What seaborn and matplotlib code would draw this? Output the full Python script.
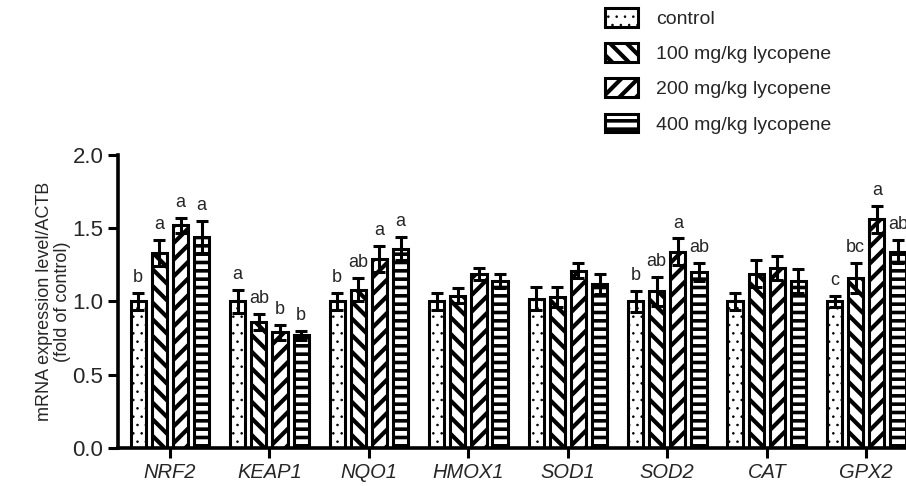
import numpy as np
import pandas as pd
import seaborn as sns
import matplotlib.pyplot as plt
import matplotlib.patches as mpatches

genes = ["NRF2", "KEAP1", "NQO1", "HMOX1", "SOD1", "SOD2", "CAT", "GPX2"]
groups = ["control", "100 mg/kg lycopene", "200 mg/kg lycopene", "400 mg/kg lycopene"]

# mean fold change per gene, one list per group
control = [1.00, 1.00, 1.00, 1.00, 1.02, 1.00, 1.00, 1.00]
lyc100 = [1.33, 0.86, 1.08, 1.04, 1.03, 1.07, 1.19, 1.16]
lyc200 = [1.52, 0.79, 1.29, 1.19, 1.21, 1.34, 1.23, 1.56]
lyc400 = [1.44, 0.77, 1.36, 1.14, 1.12, 1.20, 1.14, 1.34]

# SEM
control_err = [0.06, 0.08, 0.06, 0.06, 0.08, 0.07, 0.06, 0.04]
lyc100_err = [0.09, 0.055, 0.08, 0.05, 0.07, 0.10, 0.09, 0.10]
lyc200_err = [0.05, 0.05, 0.09, 0.04, 0.05, 0.09, 0.08, 0.09]
lyc400_err = [0.11, 0.03, 0.08, 0.05, 0.07, 0.06, 0.08, 0.08]

# significance letters
control_sig = ["b", "a", "b", "", "", "b", "", "c"]
lyc100_sig = ["a", "ab", "ab", "", "", "ab", "", "bc"]
lyc200_sig = ["a", "b", "a", "", "", "a", "", "a"]
lyc400_sig = ["a", "b", "a", "", "", "ab", "", "ab"]

means = [control, lyc100, lyc200, lyc400]
errs = [control_err, lyc100_err, lyc200_err, lyc400_err]
sigs = [control_sig, lyc100_sig, lyc200_sig, lyc400_sig]
hatches = ["..", "\\\\", "//", "--"]
hatch_lw = [0.6, 3.0, 3.0, 2.6]

df = pd.DataFrame({
    "gene": np.repeat([genes], 4, axis=0).ravel(),
    "group": np.repeat(groups, len(genes)),
    "value": np.concatenate(means),
})

sns.set_style("ticks")
plt.rcParams["font.family"] = ["Liberation Sans", "DejaVu Sans"]
plt.rcParams["hatch.linewidth"] = 2.6
plt.rcParams["hatch.color"] = "black"

fig = plt.figure(figsize=(9.06, 4.86), dpi=100)
ax = fig.add_axes([0.1302, 0.0782, 0.8698, 0.6029])

sns.barplot(data=df, x="gene", y="value", hue="group", order=genes, hue_order=groups,
            palette=["white"] * 4, edgecolor="black", linewidth=2.2,
            width=0.85, gap=0.28, errorbar=None, legend=False, ax=ax)

bar_conts = list(ax.containers)
for i, cont in enumerate(bar_conts):
    xs = []
    for bar in cont.patches:
        bar.set_hatch(hatches[i])
        bar.set_facecolor("white")
        bar.set_edgecolor("black")
        if hasattr(bar, "set_hatch_linewidth"):
            bar.set_hatch_linewidth(hatch_lw[i])
        xs.append(bar.get_x() + bar.get_width() / 2)
    ax.errorbar(xs, means[i], yerr=errs[i], fmt="none", ecolor="black",
                elinewidth=2.2, capsize=4, capthick=2.2, zorder=5)
    for x, m, e, s in zip(xs, means[i], errs[i], sigs[i]):
        if s:
            ax.annotate(s, (x, m + e), xytext=(0, 5), textcoords="offset points",
                        ha="center", va="bottom", fontsize=13, annotation_clip=False)

ax.set_xlim(-0.523, 7.40)
ax.set_ylim(0, 2.0)
ax.set_yticks([0.0, 0.5, 1.0, 1.5, 2.0])
ax.set_yticklabels(["0.0", "0.5", "1.0", "1.5", "2.0"], fontsize=16)
ax.set_xticks(range(len(genes)))
ax.set_xticklabels(genes, fontsize=14.5, style="italic")
ax.set_xlabel("")
ax.set_ylabel("mRNA expression level/ACTB\n(fold of control)", fontsize=13,
              labelpad=1, linespacing=1.05)
ax.tick_params(axis="both", width=2.2, length=7, color="black")
for side in ["left", "bottom"]:
    ax.spines[side].set_linewidth(2.6)
    ax.spines[side].set_color("black")
sns.despine(ax=ax)
ax.spines["bottom"].set_clip_on(False)

handles = []
for i, g in enumerate(groups):
    p = mpatches.Patch(facecolor="white", edgecolor="black", hatch=hatches[i],
                       linewidth=2.2, label=g)
    handles.append(p)
leg = fig.legend(handles=handles, loc="upper left", bbox_to_anchor=(0.655, 1.007),
                 frameon=False, fontsize=14, handlelength=1.7, handleheight=1.1,
                 handletextpad=0.9, labelspacing=0.78, borderaxespad=0.2)
for i, p in enumerate(leg.get_patches()):
    if hasattr(p, "set_hatch_linewidth"):
        p.set_hatch_linewidth(hatch_lw[i])

fig.savefig("out.png", dpi=100)
